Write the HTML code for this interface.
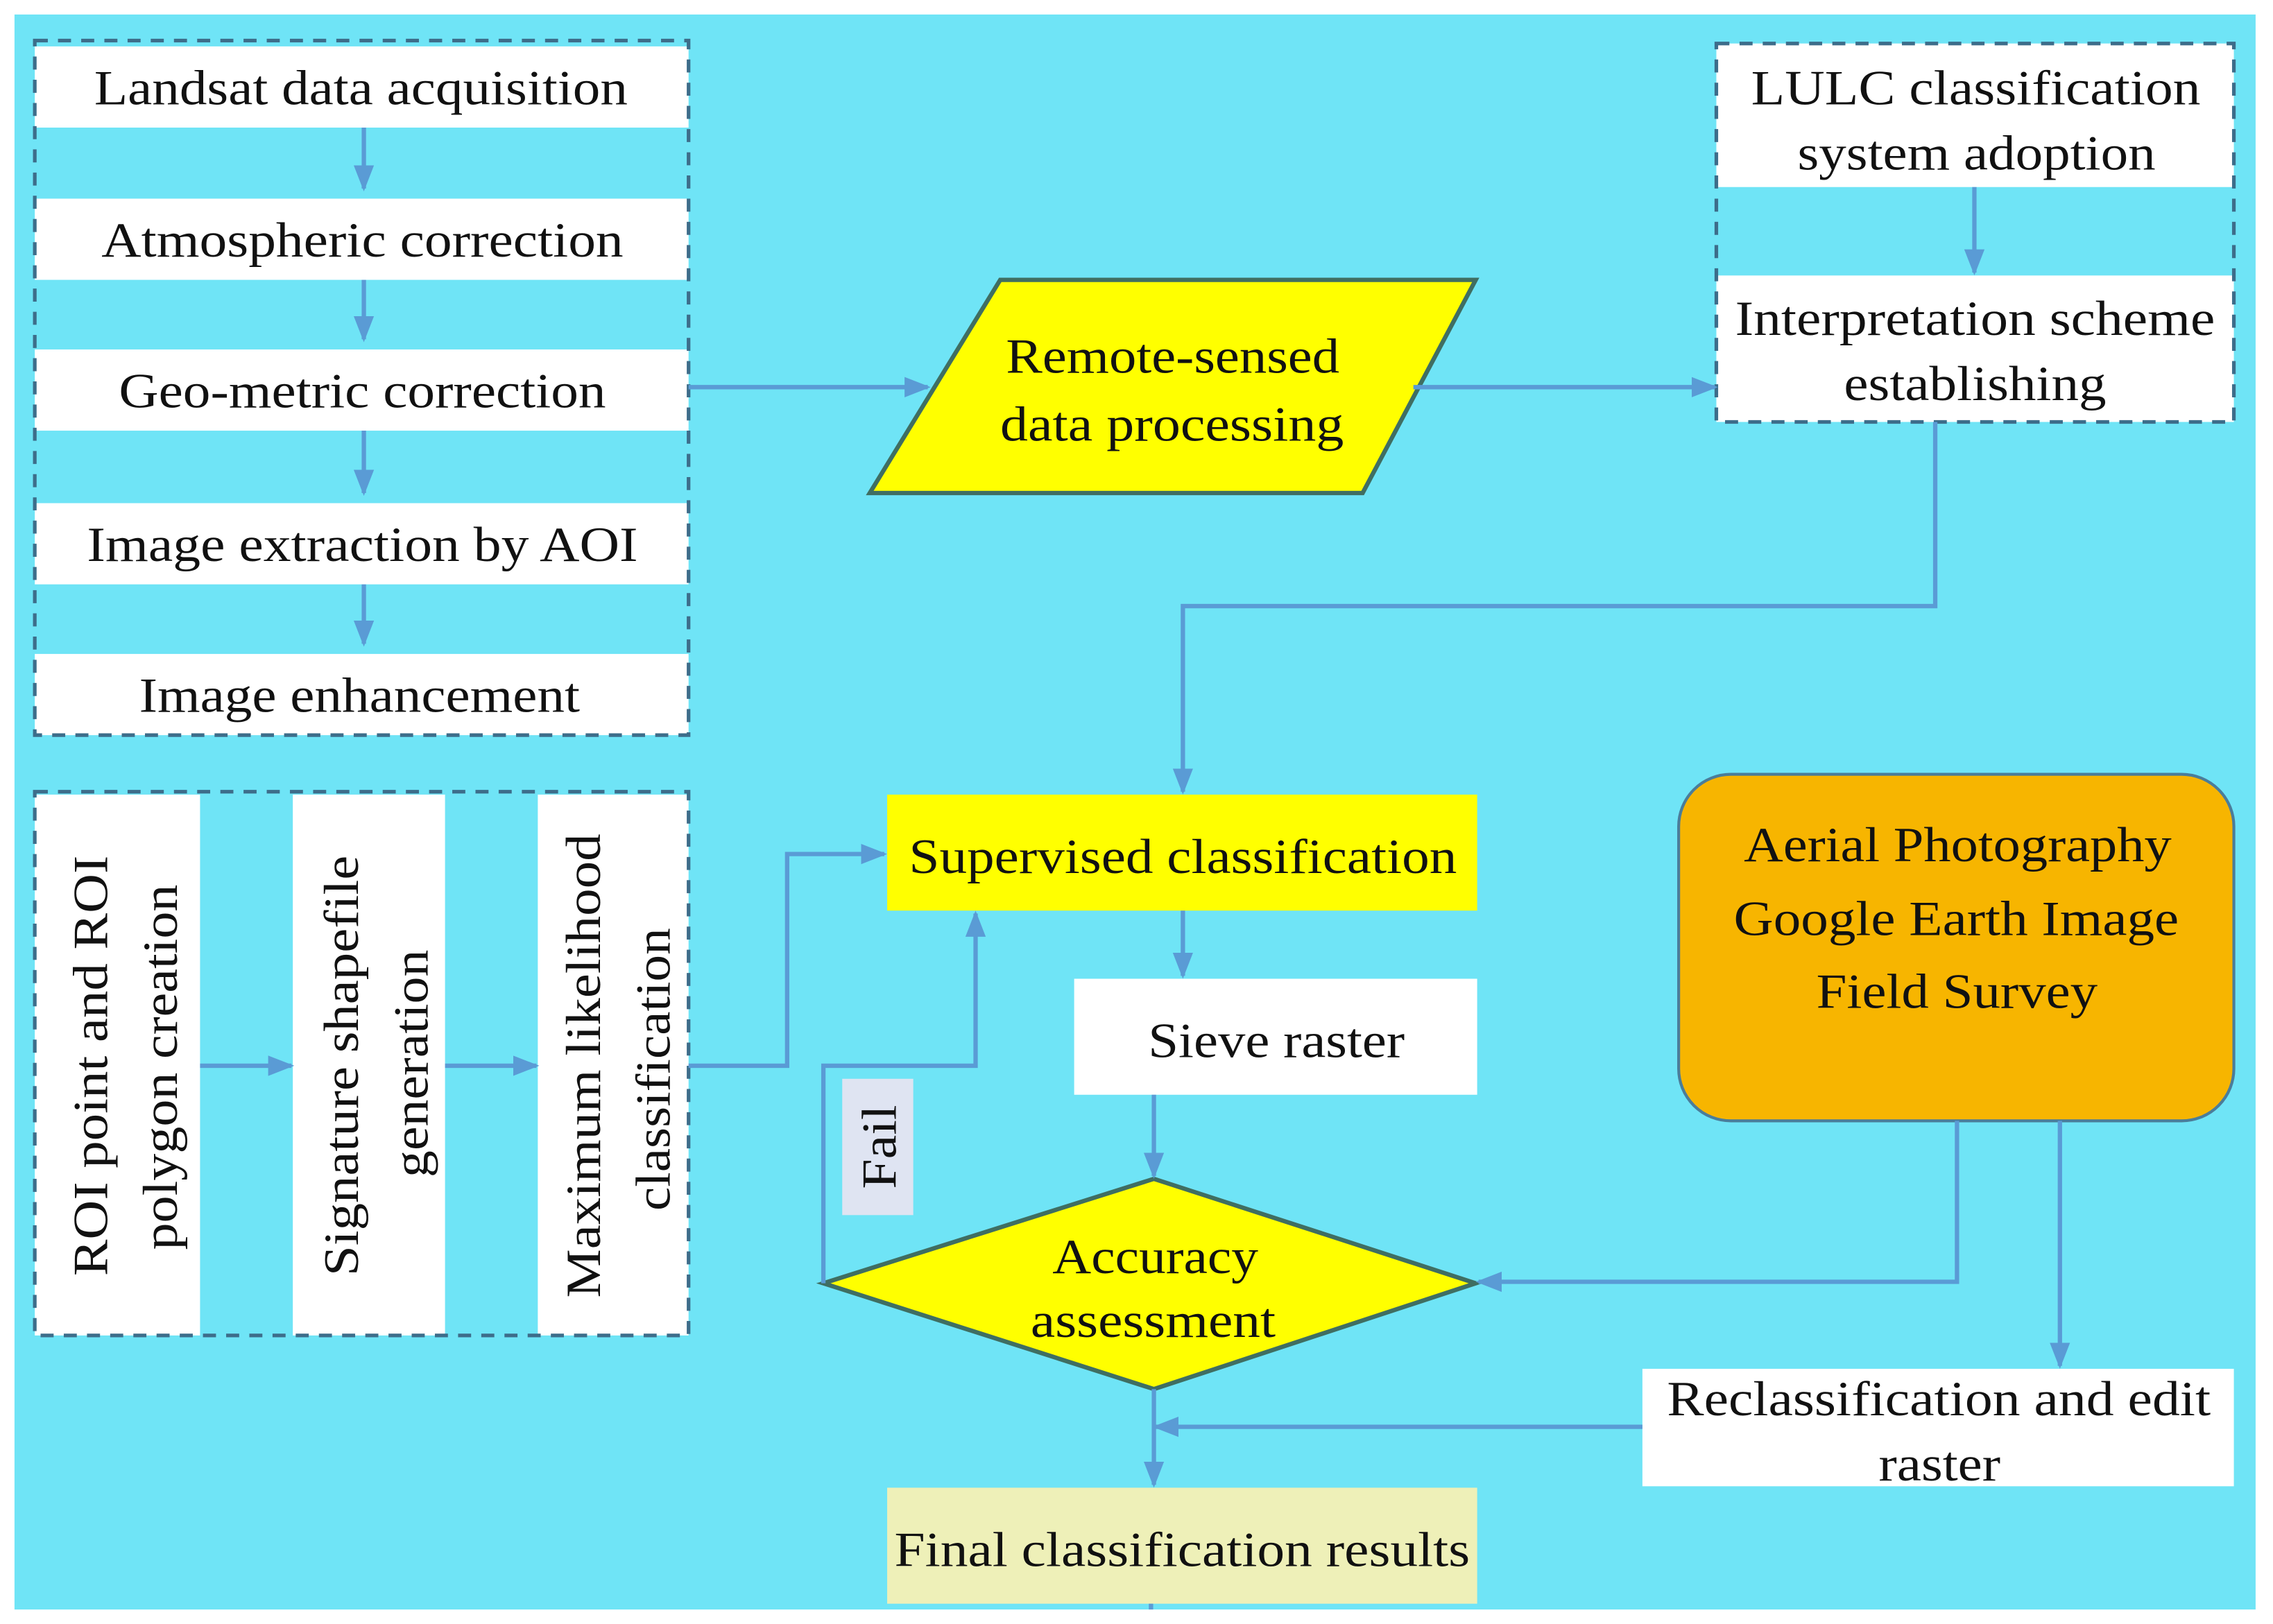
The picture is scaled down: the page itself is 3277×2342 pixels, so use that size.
<!DOCTYPE html>
<html><head><meta charset="utf-8"><style>html,body{margin:0;padding:0;background:#fff}svg{display:block}</style></head>
<body>
<svg width="3277" height="2342" viewBox="0 0 1568 1120" preserveAspectRatio="none" xmlns="http://www.w3.org/2000/svg" font-family="Liberation Serif, serif" font-size="34" fill="#111">
<defs><marker id="a" markerWidth="8" markerHeight="8" refX="7" refY="4" orient="auto" markerUnits="userSpaceOnUse" viewBox="0 0 8 8"><path d="M0,0 L8,4 L0,8 z" fill="#5a9bd5"/></marker>
<marker id="b" markerWidth="18" markerHeight="18" refX="16" refY="9" orient="auto" markerUnits="userSpaceOnUse" viewBox="0 0 18 18"><path d="M0,2 L18,9 L0,16 z" fill="#5a9bd5"/></marker></defs>
<rect x="10" y="10" width="1546" height="1100" fill="#6fe4f6"/>
<g fill="#fff">
<rect x="24" y="32" width="451" height="56"/><rect x="24" y="137" width="451" height="56"/><rect x="24" y="241" width="451" height="56"/><rect x="24" y="347" width="451" height="56"/><rect x="24" y="451" width="451" height="56"/>
<rect x="24" y="548" width="114" height="373"/><rect x="202" y="548" width="105" height="373"/><rect x="371" y="548" width="104" height="373"/>
<rect x="1184" y="30" width="357" height="99"/><rect x="1184" y="190" width="357" height="101"/>
<rect x="741" y="675" width="278" height="80"/><rect x="1133" y="944" width="408" height="81"/>
</g>
<g fill="none" stroke="#3d6d8a" stroke-width="2.5" stroke-dasharray="9,7">
<rect x="24" y="28" width="451" height="479"/><rect x="24" y="546" width="451" height="375"/><rect x="1184" y="30" width="357" height="261"/>
</g>
<polygon points="690,193 1018,193 940,340 600,340" fill="#ffff00" stroke="#3f6e62" stroke-width="3"/>
<rect x="612" y="548" width="407" height="80" fill="#ffff00"/>
<polygon points="568,885 796,813 1018,885 796,958" fill="#ffff00" stroke="#3f6e62" stroke-width="3"/>
<rect x="612" y="1026" width="407" height="80" fill="#eef0b8"/>
<rect x="1158" y="534" width="383" height="239" rx="36" fill="#f7b500" stroke="#4a7d9a" stroke-width="2"/>
<rect x="581" y="744" width="49" height="94" fill="#dfe4f2"/>
<g fill="none" stroke="#5a9bd5" stroke-width="3">
<line x1="251" y1="88" x2="251" y2="130" marker-end="url(#b)"/><line x1="251" y1="193" x2="251" y2="234" marker-end="url(#b)"/><line x1="251" y1="297" x2="251" y2="340" marker-end="url(#b)"/><line x1="251" y1="403" x2="251" y2="444" marker-end="url(#b)"/>
<line x1="138" y1="735" x2="201" y2="735" marker-end="url(#b)"/><line x1="307" y1="735" x2="370" y2="735" marker-end="url(#b)"/>
<polyline points="475,735 543,735 543,589 610,589" marker-end="url(#b)"/>
<line x1="475" y1="267" x2="640" y2="267" marker-end="url(#b)"/>
<line x1="975" y1="267" x2="1183" y2="267" marker-end="url(#b)"/>
<line x1="1362" y1="129" x2="1362" y2="188" marker-end="url(#b)"/>
<polyline points="1335,291 1335,418 816,418 816,546" marker-end="url(#b)"/>
<line x1="816" y1="628" x2="816" y2="673" marker-end="url(#b)"/>
<line x1="796" y1="755" x2="796" y2="811" marker-end="url(#b)"/>
<polyline points="568,885 568,735 673,735 673,630" marker-end="url(#b)"/>
<polyline points="1350,773 1350,884 1020,884" marker-end="url(#b)"/>
<line x1="1421" y1="773" x2="1421" y2="942" marker-end="url(#b)"/>
<line x1="1133" y1="984" x2="797" y2="984" marker-end="url(#b)"/>
<line x1="796" y1="958" x2="796" y2="1024" marker-end="url(#b)"/>
<line x1="794" y1="1106" x2="794" y2="1110"/>
</g>
<g lengthAdjust="spacingAndGlyphs">
<text x="65" y="72" textLength="368" lengthAdjust="spacingAndGlyphs">Landsat data acquisition</text>
<text x="70" y="177" textLength="360" lengthAdjust="spacingAndGlyphs">Atmospheric correction</text>
<text x="82" y="281" textLength="336" lengthAdjust="spacingAndGlyphs">Geo-metric correction</text>
<text x="60" y="387" textLength="380" lengthAdjust="spacingAndGlyphs">Image extraction by AOI</text>
<text x="96" y="491" textLength="304" lengthAdjust="spacingAndGlyphs">Image enhancement</text>
<text x="1208" y="72" textLength="310" lengthAdjust="spacingAndGlyphs">LULC classification</text>
<text x="1240" y="117" textLength="247" lengthAdjust="spacingAndGlyphs">system adoption</text>
<text x="1197" y="231" textLength="331" lengthAdjust="spacingAndGlyphs">Interpretation scheme</text>
<text x="1272" y="276" textLength="181" lengthAdjust="spacingAndGlyphs">establishing</text>
<text x="694" y="257" textLength="230" lengthAdjust="spacingAndGlyphs">Remote-sensed</text>
<text x="690" y="304" textLength="237" lengthAdjust="spacingAndGlyphs">data processing</text>
<text x="627" y="602" textLength="378" lengthAdjust="spacingAndGlyphs">Supervised classification</text>
<text x="792" y="729" textLength="177" lengthAdjust="spacingAndGlyphs">Sieve raster</text>
<text x="726" y="878" textLength="142" lengthAdjust="spacingAndGlyphs">Accuracy</text>
<text x="711" y="922" textLength="169" lengthAdjust="spacingAndGlyphs">assessment</text>
<text x="1203" y="594" textLength="295" lengthAdjust="spacingAndGlyphs">Aerial Photography</text>
<text x="1196" y="645" textLength="307" lengthAdjust="spacingAndGlyphs">Google Earth Image</text>
<text x="1253" y="695" textLength="194" lengthAdjust="spacingAndGlyphs">Field Survey</text>
<text x="1150" y="976" textLength="375" lengthAdjust="spacingAndGlyphs">Reclassification and edit</text>
<text x="1296" y="1021" textLength="84" lengthAdjust="spacingAndGlyphs">raster</text>
<text x="617" y="1080" textLength="397" lengthAdjust="spacingAndGlyphs">Final classification results</text>
<text transform="translate(74,880) rotate(-90)" textLength="290" lengthAdjust="spacingAndGlyphs">ROI point and ROI</text>
<text transform="translate(122,862) rotate(-90)" textLength="252" lengthAdjust="spacingAndGlyphs">polygon creation</text>
<text transform="translate(247,880) rotate(-90)" textLength="290" lengthAdjust="spacingAndGlyphs">Signature shapefile</text>
<text transform="translate(295,812) rotate(-90)" textLength="157" lengthAdjust="spacingAndGlyphs">generation</text>
<text transform="translate(414,895) rotate(-90)" textLength="320" lengthAdjust="spacingAndGlyphs">Maximum likelihood</text>
<text transform="translate(462,835) rotate(-90)" textLength="195" lengthAdjust="spacingAndGlyphs">classification</text>
<text transform="translate(618,820) rotate(-90)" textLength="58" lengthAdjust="spacingAndGlyphs">Fail</text>
</g>
</svg>
</body></html>
